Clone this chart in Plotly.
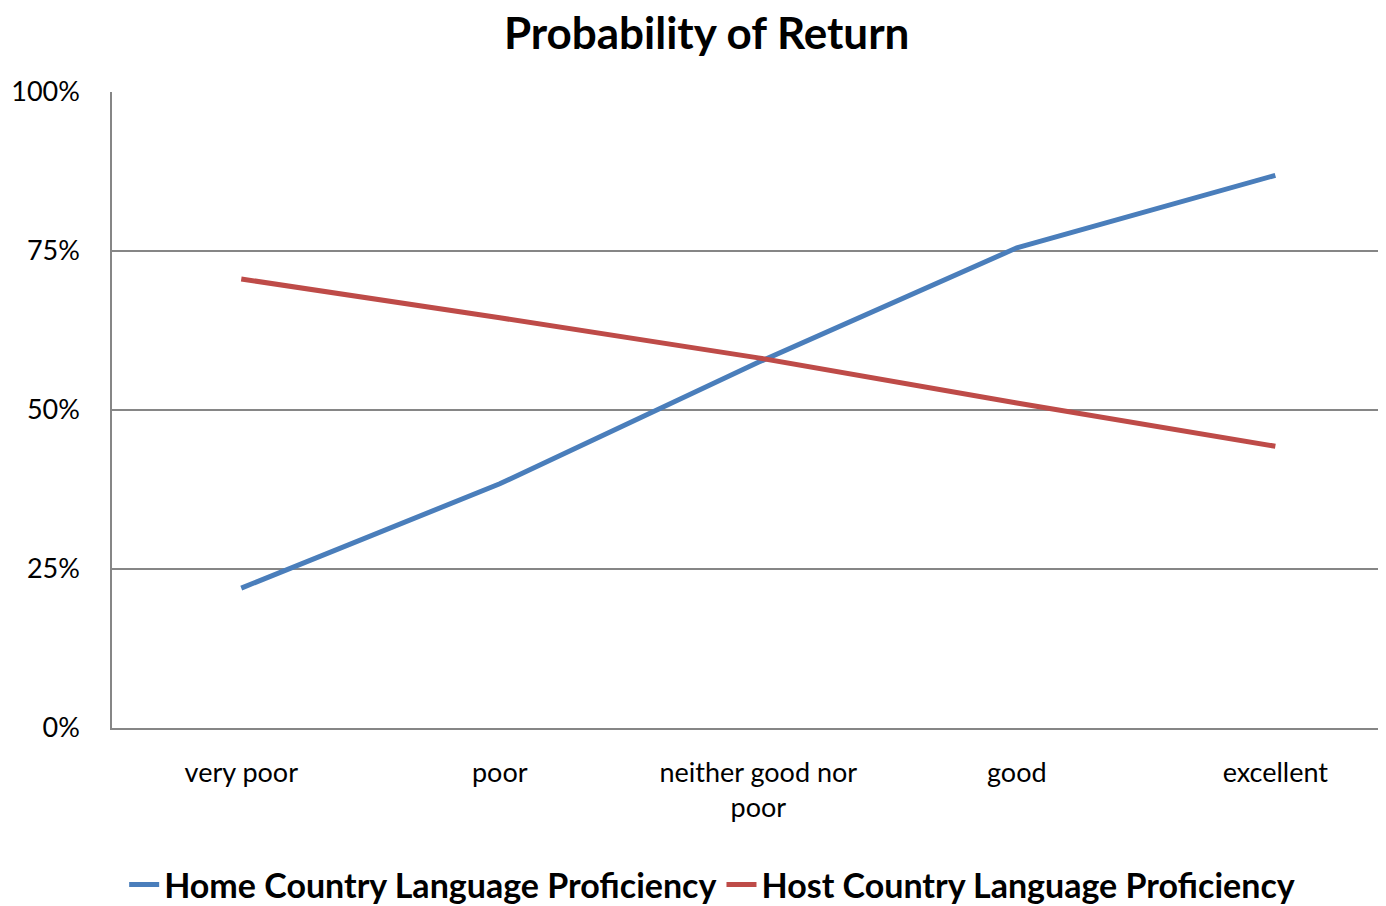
import plotly.graph_objects as go

categories = ["very poor", "poor", "neither good nor<br>poor", "good", "excellent"]
home = [0.220, 0.384, 0.575, 0.755, 0.869]
host = [0.706, 0.645, 0.582, 0.511, 0.443]
y_ticks = [0, 0.25, 0.5, 0.75, 1.0]
y_labels = ["0%", "25%", "50%", "75%", "100%"]

FONT = "Lato, 'Open Sans', sans-serif"

fig = go.Figure()
fig.add_trace(go.Scatter(x=list(range(len(categories))), y=home, mode="lines",
                         name="Home Country Language Proficiency",
                         line=dict(color="#4A7EBB", width=5)))
fig.add_trace(go.Scatter(x=list(range(len(categories))), y=host, mode="lines",
                         name="Host Country Language Proficiency",
                         line=dict(color="#BE4B48", width=5)))

fig.update_layout(
    width=1378, height=898,
    margin=dict(l=104, r=0, t=84, b=178),
    paper_bgcolor="white", plot_bgcolor="white",
    font=dict(family=FONT, size=27, color="black"),
    title=dict(text="<b>Probability of Return</b>", x=0.507, xanchor="center",
               xref="container", y=0.971, yanchor="middle",
               font=dict(size=44, family=FONT)),
    showlegend=True,
    legend=dict(orientation="h", x=0.511, xref="container", xanchor="center",
                yref="container", y=0.0234, yanchor="middle",
                font=dict(size=34, family=FONT, weight="bold"), itemwidth=30,
                traceorder="normal"),
)
fig.update_xaxes(
    tickmode="array", tickvals=list(range(len(categories))), ticktext=categories,
    range=[-0.5, 4.428], showgrid=False, showline=True, linecolor="#868686",
    linewidth=1.5, ticks="", ticklabelstandoff=20, zeroline=False,
)
fig.update_yaxes(
    tickmode="array", tickvals=y_ticks, ticktext=y_labels, range=[0, 1],
    showgrid=True, gridcolor="#868686", gridwidth=1.5, showline=True,
    linecolor="#868686", linewidth=1.5, ticks="", ticklabelstandoff=25,
    zeroline=False,
)

fig.write_html("out.html")
